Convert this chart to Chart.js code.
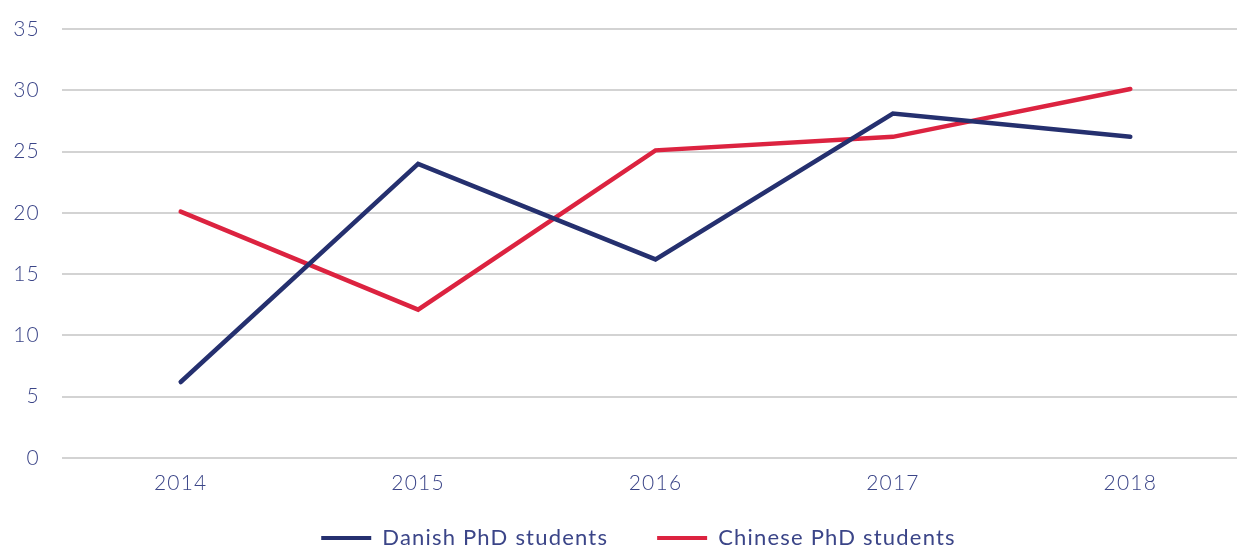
<!DOCTYPE html>
<html lang="en">
<head>
  <meta charset="UTF-8">
  <title>PhD students</title>
  <script src="https://cdn.jsdelivr.net/npm/chart.js"></script>
  <style>
    html, body { margin: 0; padding: 0; background: #fff; overflow: hidden; }
    #wrap { width: 1249px; height: 545px; }
  </style>
</head>
<body>
<div id="wrap"><canvas id="phdChart"></canvas></div>

<script>
  const years = ['2014', '2015', '2016', '2017', '2018'];
  const danish = [6.2, 24, 16.2, 28.1, 26.2];
  const chinese = [20.1, 12.1, 25.1, 26.2, 30.1];
  const yTicks = [0, 5, 10, 15, 20, 25, 30, 35];

  const navy = '#25306f';
  const red = '#dc2340';
  const textColor = '#3b4588';
  const tickFont = { family: 'Lato, "Open Sans", sans-serif', size: 21, weight: 300 };
  const legendFont = { family: 'Lato, "Open Sans", sans-serif', size: 22, weight: 400 };

  // wider letter spacing like the original typeface
  const spacing = {
    id: 'spacing',
    beforeLayout(chart) { chart.ctx.letterSpacing = '1.2px'; },
    beforeDraw(chart) { chart.ctx.letterSpacing = '1.2px'; }
  };

  // wider gap between the two legend items without moving the row down
  const legendGap = {
    id: 'legendGap',
    afterLayout(chart) {
      const lg = chart.legend;
      if (!lg) return;
      try {
        const old = lg.options.labels.padding;
        lg.options.labels.padding = 49;
        const d = lg.options.labels.padding - old;
        if (!d) return;
        lg.top -= d;
        lg.left -= 5;
        lg.right -= 5;
      } catch (e) { /* keep default legend */ }
    }
  };

  const ctx = document.getElementById('phdChart').getContext('2d');
  new Chart(ctx, {
    type: 'line',
    data: {
      labels: years,
      datasets: [
        { label: 'Danish PhD students', data: danish, borderColor: navy, backgroundColor: navy, borderWidth: 4.5, pointRadius: 0, tension: 0, borderCapStyle: 'round' },
        { label: 'Chinese PhD students', data: chinese, borderColor: red, backgroundColor: red, borderWidth: 4.5, pointRadius: 0, tension: 0, borderCapStyle: 'round' }
      ]
    },
    options: {
      responsive: true,
      maintainAspectRatio: false,
      animation: false,
      layout: { padding: { top: 29, left: 0, right: 0, bottom: -14 } },
      plugins: {
        tooltip: { enabled: false },
        legend: {
          position: 'bottom',
          labels: {
            color: textColor,
            font: legendFont,
            boxWidth: 50,
            boxHeight: 4,
            padding: 30,
            generateLabels: function(chart) {
              return chart.data.datasets.map((ds, i) => ({
                text: ds.label,
                fillStyle: ds.borderColor,
                strokeStyle: ds.borderColor,
                lineWidth: 0,
                fontColor: textColor,
                datasetIndex: i
              }));
            }
          }
        }
      },
      scales: {
        x: {
          offset: true,
          afterFit: axis => { axis.height = 39; },
          grid: { display: false },
          border: { display: false },
          ticks: { color: textColor, font: tickFont, padding: 5 }
        },
        y: {
          min: 0,
          max: 35,
          afterFit: axis => { axis.width = 62; axis.paddingTop = 0; axis.paddingBottom = 0; },
          afterBuildTicks: axis => { axis.ticks = yTicks.map(v => ({ value: v })); },
          grid: { color: '#d3d3d3', lineWidth: 2, drawTicks: false },
          border: { display: false },
          ticks: { color: textColor, font: tickFont, padding: 22 }
        }
      }
    },
    plugins: [spacing, legendGap]
  });
</script>
</body>
</html>
